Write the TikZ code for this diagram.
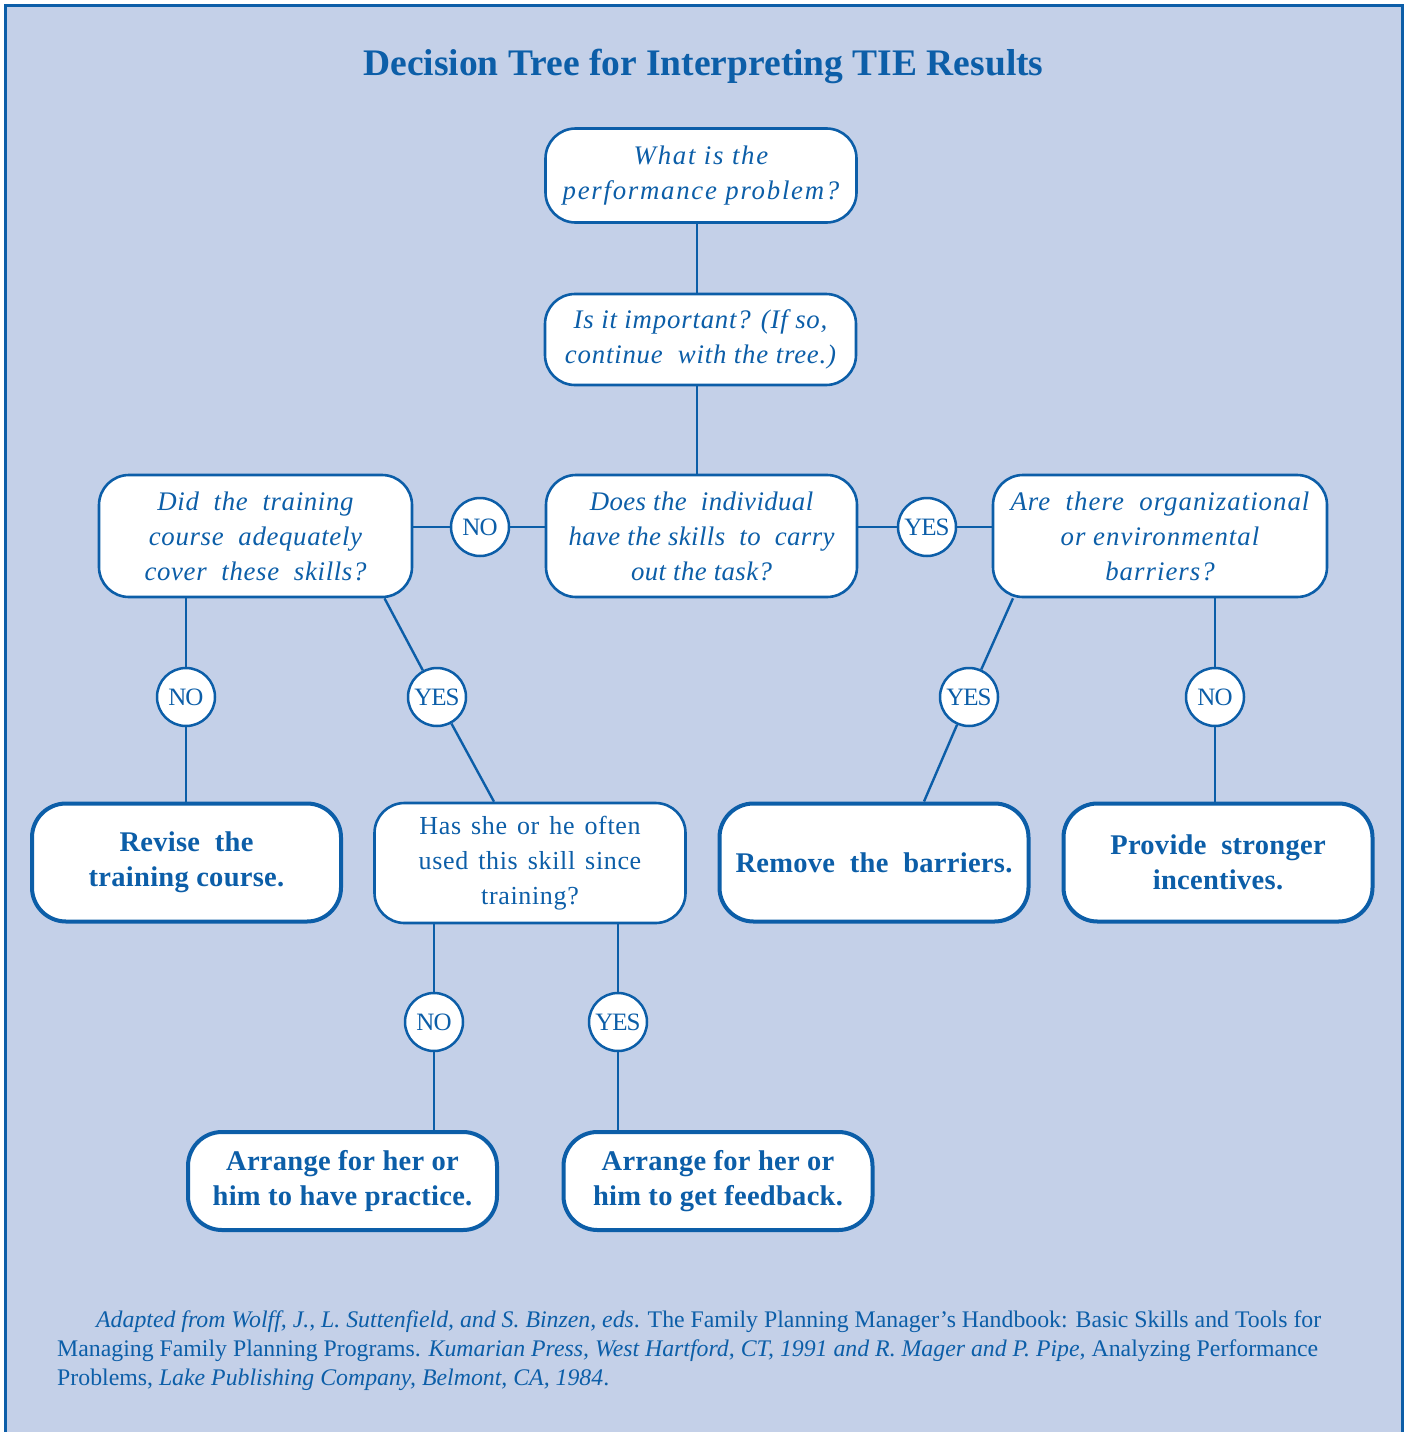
\documentclass[tikz,border=0pt]{standalone}
\usepackage{fontspec}
\setmainfont{Liberation Serif}
\definecolor{tieblue}{RGB}{12,94,168}
\definecolor{tiebg}{RGB}{196,208,232}
\newcommand\qf[1]{\fontsize{26.8}{35}\selectfont\itshape\addfontfeature{LetterSpace=#1}}
\newcommand\rf[1]{\fontsize{26}{35}\selectfont\addfontfeature{LetterSpace=#1}\spaceskip=10pt plus 2pt}
\newcommand\af{\fontsize{28.5}{35}\selectfont\bfseries\addfontfeature{LetterSpace=1}}
\tikzset{
  qbox/.style={draw=tieblue, fill=white, line width=2.6pt, rounded corners=30pt,
    align=center, text=tieblue, inner sep=0pt, minimum width=311pt},
  abox/.style={draw=tieblue, fill=white, line width=4pt, rounded corners=34pt,
    align=center, text=tieblue, inner sep=0pt, minimum width=309pt, font=\af},
  yn/.style={circle, draw=tieblue, fill=white, line width=2.5pt, minimum size=58pt,
    inner sep=0pt, text=tieblue, font=\fontsize{25}{28}\selectfont\addfontfeature{LetterSpace=-4}},
  conn/.style={draw=tieblue, line width=2.4pt}
}
\begin{document}
\begin{tikzpicture}[x=1pt,y=-1pt]
\useasboundingbox (0,0) rectangle (1405,1432);
\fill[tiebg] (5,5) rectangle (1402,1432);
\draw[tieblue, line width=3pt] (5,1432) -- (5,5) -- (1402,5) -- (1402,1432);

\node[anchor=base, text=tieblue, font=\fontsize{37.5}{45}\selectfont\bfseries, inner sep=0pt] (title) at (703.5,75) {Decision Tree for Interpreting TIE Results};

% question boxes
\node[qbox, minimum height=94pt, font=\qf{6.5}] (b1) at (701,175.5) {What is the\\performance problem?};
\node[qbox, minimum height=91pt, font=\qf{3}] (b2) at (700.5,339.5) {Is it important? (If so,\\continue\ \ with the tree.)};
\node[qbox, minimum height=122pt, font=\qf{1.5}] (b3) at (701.5,536) {Does the\ \ individual\\have the skills\ \ to\ \ carry\\out the task?};
\node[qbox, minimum height=122pt, minimum width=313pt, font=\qf{2.5}] (b4) at (255.5,536) {Did\ \ the\ \ training\\course\ \ adequately\\cover\ \ these\ \ skills?};
\node[qbox, minimum height=122pt, minimum width=334pt, font=\qf{3.8}] (b5) at (1160,536) {Are\ \ there\ \ organizational\\or environmental\\barriers?};
\node[qbox, minimum height=120pt, font=\rf{2.5}] (b7) at (530,863) {Has she or he often\\used this skill since\\training?};

% action boxes
\node[abox, minimum height=118pt] (b6) at (186.5,862.5) {Revise\ \ the\\training course.};
\node[abox, minimum height=118pt] (b8) at (874,862.5) {Remove\ \ the\ \ barriers.};
\node[abox, minimum height=118pt] (b9) at (1218,862.5) {Provide\ \ stronger\\incentives.};
\node[abox, minimum height=98pt] (b10) at (342.5,1181) {Arrange for her or\\him to have practice.};
\node[abox, minimum height=98pt] (b11) at (718,1181) {Arrange for her or\\him to get feedback.};

% yes / no circles
\node[yn] (n1) at (480,527) {NO};
\node[yn] (y0) at (927,527) {YES};
\node[yn] (n2) at (186,697) {NO};
\node[yn] (y1) at (437,697) {YES};
\node[yn] (y2) at (969,697) {YES};
\node[yn] (n3) at (1215,697) {NO};
\node[yn] (n4) at (434,1022) {NO};
\node[yn] (y3) at (618,1022) {YES};

% connectors
\draw[conn] ([xshift=-4pt]b1.south) -- ([xshift=-3.5pt]b2.north);
\draw[conn] ([xshift=-3.5pt]b2.south) -- ([xshift=-4.5pt]b3.north);
\draw[conn] (b4.east |- n1) -- (n1) -- (b3.west |- n1);
\draw[conn] (b3.east |- y0) -- (y0) -- (b5.west |- y0);
\draw[conn] (b4.south -| n2) -- (n2) -- (b6.north -| n2);
\draw[conn] ([xshift=129pt]b4.south) -- (y1) -- ([xshift=-36pt]b7.north);
\draw[conn] ([xshift=-147pt]b5.south) -- (y2) -- ([xshift=50pt]b8.north);
\draw[conn] (b5.south -| n3) -- (n3) -- (b9.north -| n3);
\draw[conn] (b7.south -| n4) -- (n4) -- (b10.north -| n4);
\draw[conn] (b7.south -| y3) -- (y3) -- (b11.north -| y3);

% footnote
\node[anchor=base west, align=left, text=tieblue, font=\fontsize{23.8}{29}\selectfont, inner sep=0pt] (fn) at (57,1385) {\hspace*{39pt}\textit{Adapted from Wolff, J., L. Suttenfield, and S. Binzen, eds}. The Family Planning Manager’s Handbook: Basic Skills and Tools for\\Managing Family Planning Programs. \textit{Kumarian Press, West Hartford, CT, 1991 and R. Mager and P. Pipe,} Analyzing Performance\\Problems, \textit{Lake Publishing Company, Belmont, CA, 1984}.};
\end{tikzpicture}
\end{document}
